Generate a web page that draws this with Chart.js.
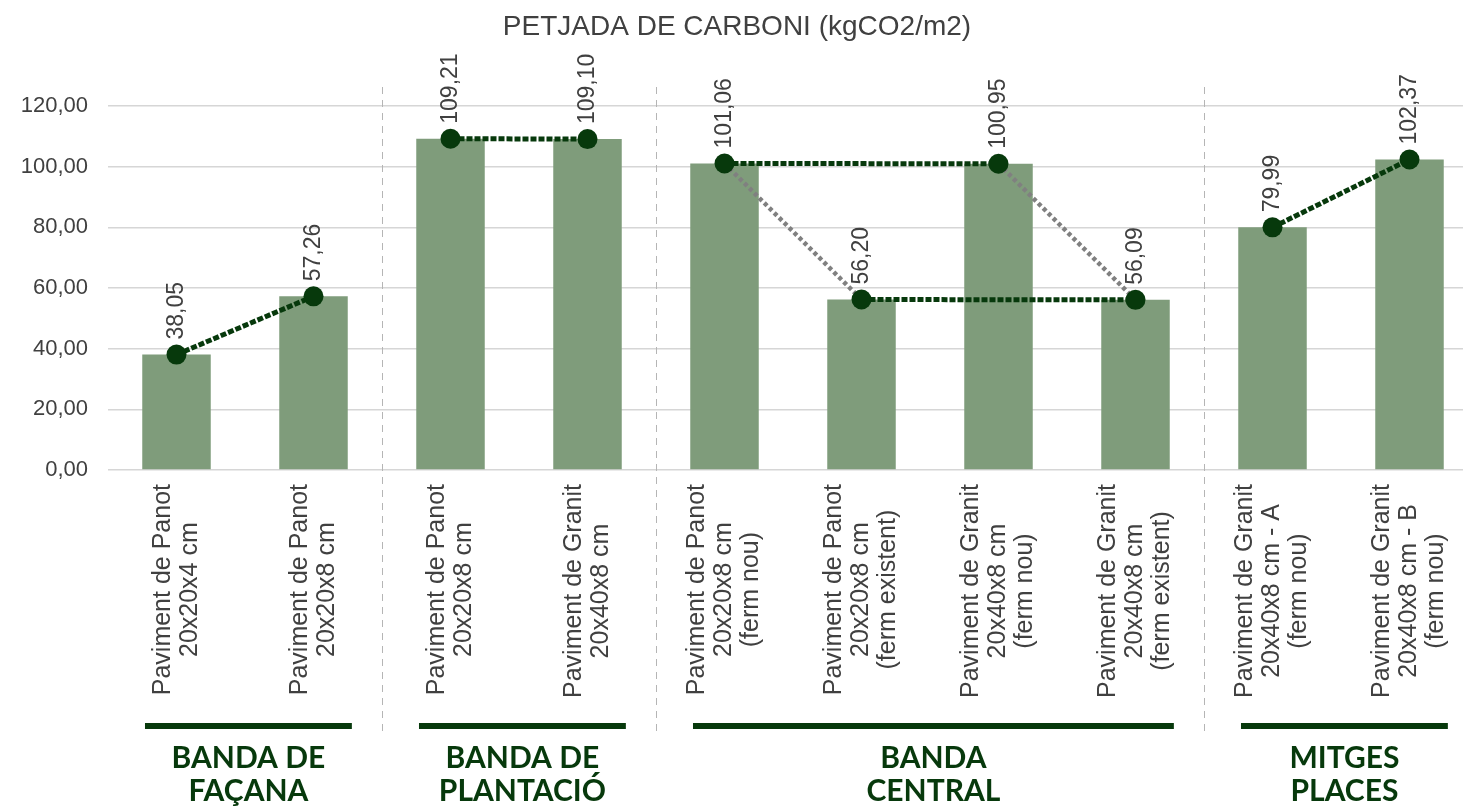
<!DOCTYPE html>
<html>
<head>
<meta charset="utf-8">
<script src="https://cdn.jsdelivr.net/npm/chart.js@4.4.1/dist/chart.umd.min.js"></script>
<style>
  html, body { margin: 0; padding: 0; background: #fff; overflow: hidden; }
  #wrap { width: 1488px; height: 808px; }
</style>
</head>
<body>
<div id="wrap"><canvas id="chart"></canvas></div>
<script>
const chartTitle = 'PETJADA DE CARBONI (kgCO2/m2)';

const categories = [
    ['Paviment de Panot', '20x20x4 cm'],
    ['Paviment de Panot', '20x20x8 cm'],
    ['Paviment de Panot', '20x20x8 cm'],
    ['Paviment de Granit', '20x40x8 cm'],
    ['Paviment de Panot', '20x20x8 cm', '(ferm nou)'],
    ['Paviment de Panot', '20x20x8 cm', '(ferm existent)'],
    ['Paviment de Granit', '20x40x8 cm', '(ferm nou)'],
    ['Paviment de Granit', '20x40x8 cm', '(ferm existent)'],
    ['Paviment de Granit', '20x40x8 cm - A', '(ferm nou)'],
    ['Paviment de Granit', '20x40x8 cm - B', '(ferm nou)']
];

const carbonValues = [38.05, 57.26, 109.21, 109.10, 101.06, 56.20, 100.95, 56.09, 79.99, 102.37];

const groupNames = [['BANDA DE', 'FAÇANA'], ['BANDA DE', 'PLANTACIÓ'], ['BANDA', 'CENTRAL'], ['MITGES', 'PLACES']];
const groupRanges = [[0, 1], [2, 3], [4, 7], [8, 9]];

// pairs of bars joined by a dotted line
const darkLinks = [[0, 1], [2, 3], [4, 6], [5, 7], [8, 9]];
const greyLinks = [[4, 5], [6, 7]];

const BAR_GREEN = '#7f9c7b';
const DARK_GREEN = '#07390c';
const TEXT_GREY = '#404040';

const fmt = (v) => v.toFixed(2).replace('.', ',');

const linkData = (i, j) => {
    let data = carbonValues.map(() => null);
    data[i] = carbonValues[i];
    data[j] = carbonValues[j];
    return data;
}

const linkDataset = (pair, colour, dash, width) => {
    return {
        type: 'line',
        data: linkData(pair[0], pair[1]),
        borderColor: colour,
        borderWidth: width,
        borderDash: dash,
        pointRadius: 0,
        spanGaps: true,
        order: 2
    };
}

const decorations = {
    id: 'decorations',
    beforeDatasetsDraw(chart) {
        const { ctx, scales: { x } } = chart;
        ctx.save();
        ctx.strokeStyle = '#b5b5b5';
        ctx.lineWidth = 1;
        ctx.setLineDash([7, 6]);
        groupRanges.slice(1).forEach(([start]) => {
            const sx = Math.round((x.getPixelForValue(start - 1) + x.getPixelForValue(start)) / 2) + 0.5;
            ctx.beginPath();
            ctx.moveTo(sx, 87);
            ctx.lineTo(sx, 732);
            ctx.stroke();
        });
        ctx.restore();
    },
    afterDraw(chart) {
        const { ctx, scales: { x } } = chart;
        const catW = x.getPixelForValue(1) - x.getPixelForValue(0);
        ctx.save();

        // title
        ctx.fillStyle = TEXT_GREY;
        ctx.font = '28px "Liberation Sans", Arial, sans-serif';
        ctx.textAlign = 'center';
        ctx.textBaseline = 'middle';
        ctx.fillText(chartTitle, 737, 27);

        // value labels above the points
        const points = chart.getDatasetMeta(chart.data.datasets.length - 1).data;
        ctx.font = '23px "Liberation Sans", Arial, sans-serif';
        ctx.textAlign = 'left';
        points.forEach((pt, i) => {
            ctx.save();
            ctx.translate(pt.x, pt.y - 15);
            ctx.rotate(-Math.PI / 2);
            ctx.fillText(fmt(carbonValues[i]), 0, 0);
            ctx.restore();
        });

        // category labels, rotated, lines centred on each other
        ctx.font = '25px "Liberation Sans", Arial, sans-serif';
        ctx.textAlign = 'center';
        const lineH = 27;
        categories.forEach((lines, i) => {
            const cx = x.getPixelForValue(i);
            const w = Math.max(...lines.map(l => ctx.measureText(l).width));
            ctx.save();
            ctx.translate(cx, 484);
            ctx.rotate(-Math.PI / 2);
            lines.forEach((line, k) => {
                ctx.fillText(line, -w / 2, (k - (lines.length - 1) / 2) * lineH);
            });
            ctx.restore();
        });

        // group bars and names
        ctx.fillStyle = DARK_GREEN;
        ctx.font = 'bold 30px Lato, "Liberation Sans", sans-serif';
        groupRanges.forEach(([a, b], g) => {
            const left = x.getPixelForValue(a) - catW * 0.23;
            const right = x.getPixelForValue(b) + catW * 0.28;
            ctx.fillRect(left, 723, right - left, 6);
            const mid = (left + right) / 2;
            groupNames[g].forEach((line, k) => {
                ctx.fillText(line, mid, 758 + k * 33);
            });
        });

        ctx.restore();
    }
};

const config = {
    type: 'bar',
    data: {
        labels: categories,
        datasets: [
            {
                type: 'bar',
                data: carbonValues,
                backgroundColor: BAR_GREEN,
                barPercentage: 0.5,
                categoryPercentage: 1,
                order: 3
            },
            ...greyLinks.map(p => linkDataset(p, '#808080', [4, 3], 4.5)),
            ...darkLinks.map(p => linkDataset(p, DARK_GREEN, [6, 2], 5)),
            {
                type: 'line',
                data: carbonValues,
                showLine: false,
                pointRadius: 10,
                pointBackgroundColor: DARK_GREEN,
                pointBorderWidth: 0,
                order: 1
            }
        ]
    },
    options: {
        responsive: true,
        maintainAspectRatio: false,
        animation: false,
        layout: {
            padding: { top: 106, left: 0, right: 2, bottom: 0 }
        },
        plugins: {
            legend: { display: false },
            tooltip: { enabled: false },
            title: { display: false }
        },
        scales: {
            x: {
                offset: true,
                grid: { display: false },
                border: { display: false },
                ticks: { display: false },
                afterFit: (scale) => { scale.height = 338; }
            },
            y: {
                min: 0,
                max: 120,
                border: { display: false },
                grid: { color: '#d6d6d6', lineWidth: 1.5, drawTicks: false },
                ticks: {
                    stepSize: 20,
                    padding: 20,
                    color: TEXT_GREY,
                    font: { family: '"Liberation Sans", Arial, sans-serif', size: 22 },
                    callback: (v) => fmt(v)
                },
                afterFit: (scale) => { scale.width = 108; }
            }
        }
    },
    plugins: [decorations]
};

new Chart(document.getElementById('chart'), config);
</script>
</body>
</html>
